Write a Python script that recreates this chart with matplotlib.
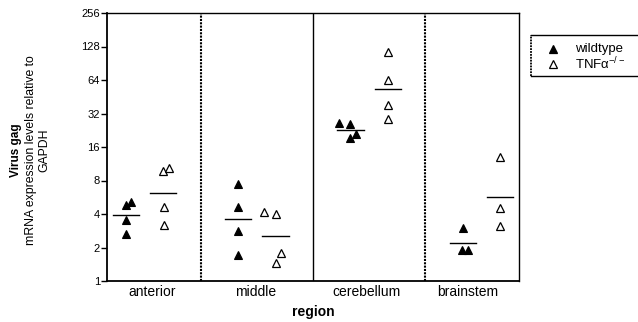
import numpy as np
import matplotlib
matplotlib.use('Agg')
import matplotlib.pyplot as plt
from matplotlib.lines import Line2D
from matplotlib.ticker import FixedLocator, NullLocator

plt.rcParams['font.family'] = ['Liberation Sans', 'DejaVu Sans']
plt.rcParams['mathtext.fontset'] = 'custom'
plt.rcParams['mathtext.rm'] = 'Liberation Sans'
plt.rcParams['mathtext.it'] = 'Liberation Sans'

# data (virus gag / GAPDH)
regions = ['anterior', 'middle', 'cerebellum', 'brainstem']
wildtype = [[4.8, 5.1, 3.5, 2.65],
            [7.5, 4.6, 2.8, 1.71],
            [26.1, 25.6, 19.4, 20.8],
            [3.0, 1.9, 1.9]]
tnf_ko = [[9.7, 10.3, 4.6, 3.2],
          [4.14, 3.97, 1.77, 1.44],
          [115, 64, 38, 28.6],
          [12.9, 4.5, 3.14]]
yticks = [1, 2, 4, 8, 16, 32, 64, 128, 256]

# small horizontal offsets so overlapping points show
wt_jit = [[0, 0.14, 0, 0], [0, 0, 0, 0], [-0.3, 0, 0, 0.15], [0, -0.03, 0.14]]
ko_jit = [[0, 0.16, 0.02, 0.02], [-0.3, 0, 0.14, 0], [0, 0, 0, 0], [0, 0, 0]]
label_pos = [1.7, 4.48, 7.42, 10.12]

fig = plt.figure(figsize=(6.38, 3.22), dpi=100)
ax = fig.add_axes([107/638, 1-281/322, 412/638, 268/322])

for i in range(len(regions)):
    xw = 3*i + 1
    xk = 3*i + 2
    wt = np.array(wildtype[i])
    ko = np.array(tnf_ko[i])
    ax.plot(xw + np.array(wt_jit[i]), wt, '^', ms=6, mfc='black', mec='black', mew=0.8,
            ls='none', clip_on=False)
    ax.plot(xk + np.array(ko_jit[i]), ko, '^', ms=6, mfc='white', mec='black', mew=0.9,
            ls='none', clip_on=False)
    # geometric mean lines
    gw = np.exp(np.log(wt).mean())
    gk = np.exp(np.log(ko).mean())
    ax.plot([xw-0.35, xw+0.35], [gw, gw], color='black', lw=1)
    ax.plot([xk-0.35, xk+0.35], [gk, gk], color='black', lw=1)

# region separators
ax.axvline(3, color='black', lw=1.5, ls=(0, (1, 0.6)))
ax.axvline(6, color='black', lw=1)
ax.axvline(9, color='black', lw=1.5, ls=(0, (1, 0.6)))

ax.set_yscale('log', base=2)
ax.set_ylim(1, 256)
ax.yaxis.set_major_locator(FixedLocator(yticks))
ax.yaxis.set_minor_locator(NullLocator())
ax.set_yticklabels([str(t) for t in yticks], fontsize=8)
ax.tick_params(axis='y', length=4, width=1, pad=1)

ax.set_xlim(0.5, 11.5)
ax.set_xticks(label_pos)
ax.set_xticklabels(regions, fontsize=10)
ax.tick_params(axis='x', length=0, pad=3)

for s in ['top', 'right']:
    ax.spines[s].set_linewidth(1)
for s in ['left', 'bottom']:
    ax.spines[s].set_linewidth(1.3)

fig.text(313/638, 1-312/322, 'region', fontsize=10, fontweight='bold', ha='center', va='center')
fig.text(16/638, 0.534, 'Virus gag', fontsize=8.5, fontweight='bold', rotation=90,
         ha='center', va='center')
fig.text(31/638, 0.534, 'mRNA expression levels relative to', fontsize=8.8, rotation=90,
         ha='center', va='center')
fig.text(44/638, 0.534, 'GAPDH', fontsize=8.8, rotation=90, ha='center', va='center')

# legend box (runs off the right edge)
x0, y0, y1 = 531/638, 1-76/322, 1-35/322
fig.add_artist(Line2D([x0, 1], [y1, y1], color='black', lw=1, transform=fig.transFigure))
fig.add_artist(Line2D([x0, 1], [y0, y0], color='black', lw=1, transform=fig.transFigure))
fig.add_artist(Line2D([x0, x0], [y0, y1], color='black', lw=1.3, ls=(0, (1, 0.6)),
                      transform=fig.transFigure))
leg_labels = ['wildtype', 'TNF\u03b1$^{-/-}$']
leg_fill = ['black', 'white']
leg_y = [49, 64]
for lab, fc, yy in zip(leg_labels, leg_fill, leg_y):
    fig.add_artist(Line2D([553/638], [1-yy/322], marker='^', ls='none', ms=6, mfc=fc,
                          mec='black', mew=0.9, transform=fig.transFigure))
    fig.text(575/638, 1-yy/322, lab, fontsize=9.5, ha='left', va='center')

fig.savefig('out.png', dpi=100)
